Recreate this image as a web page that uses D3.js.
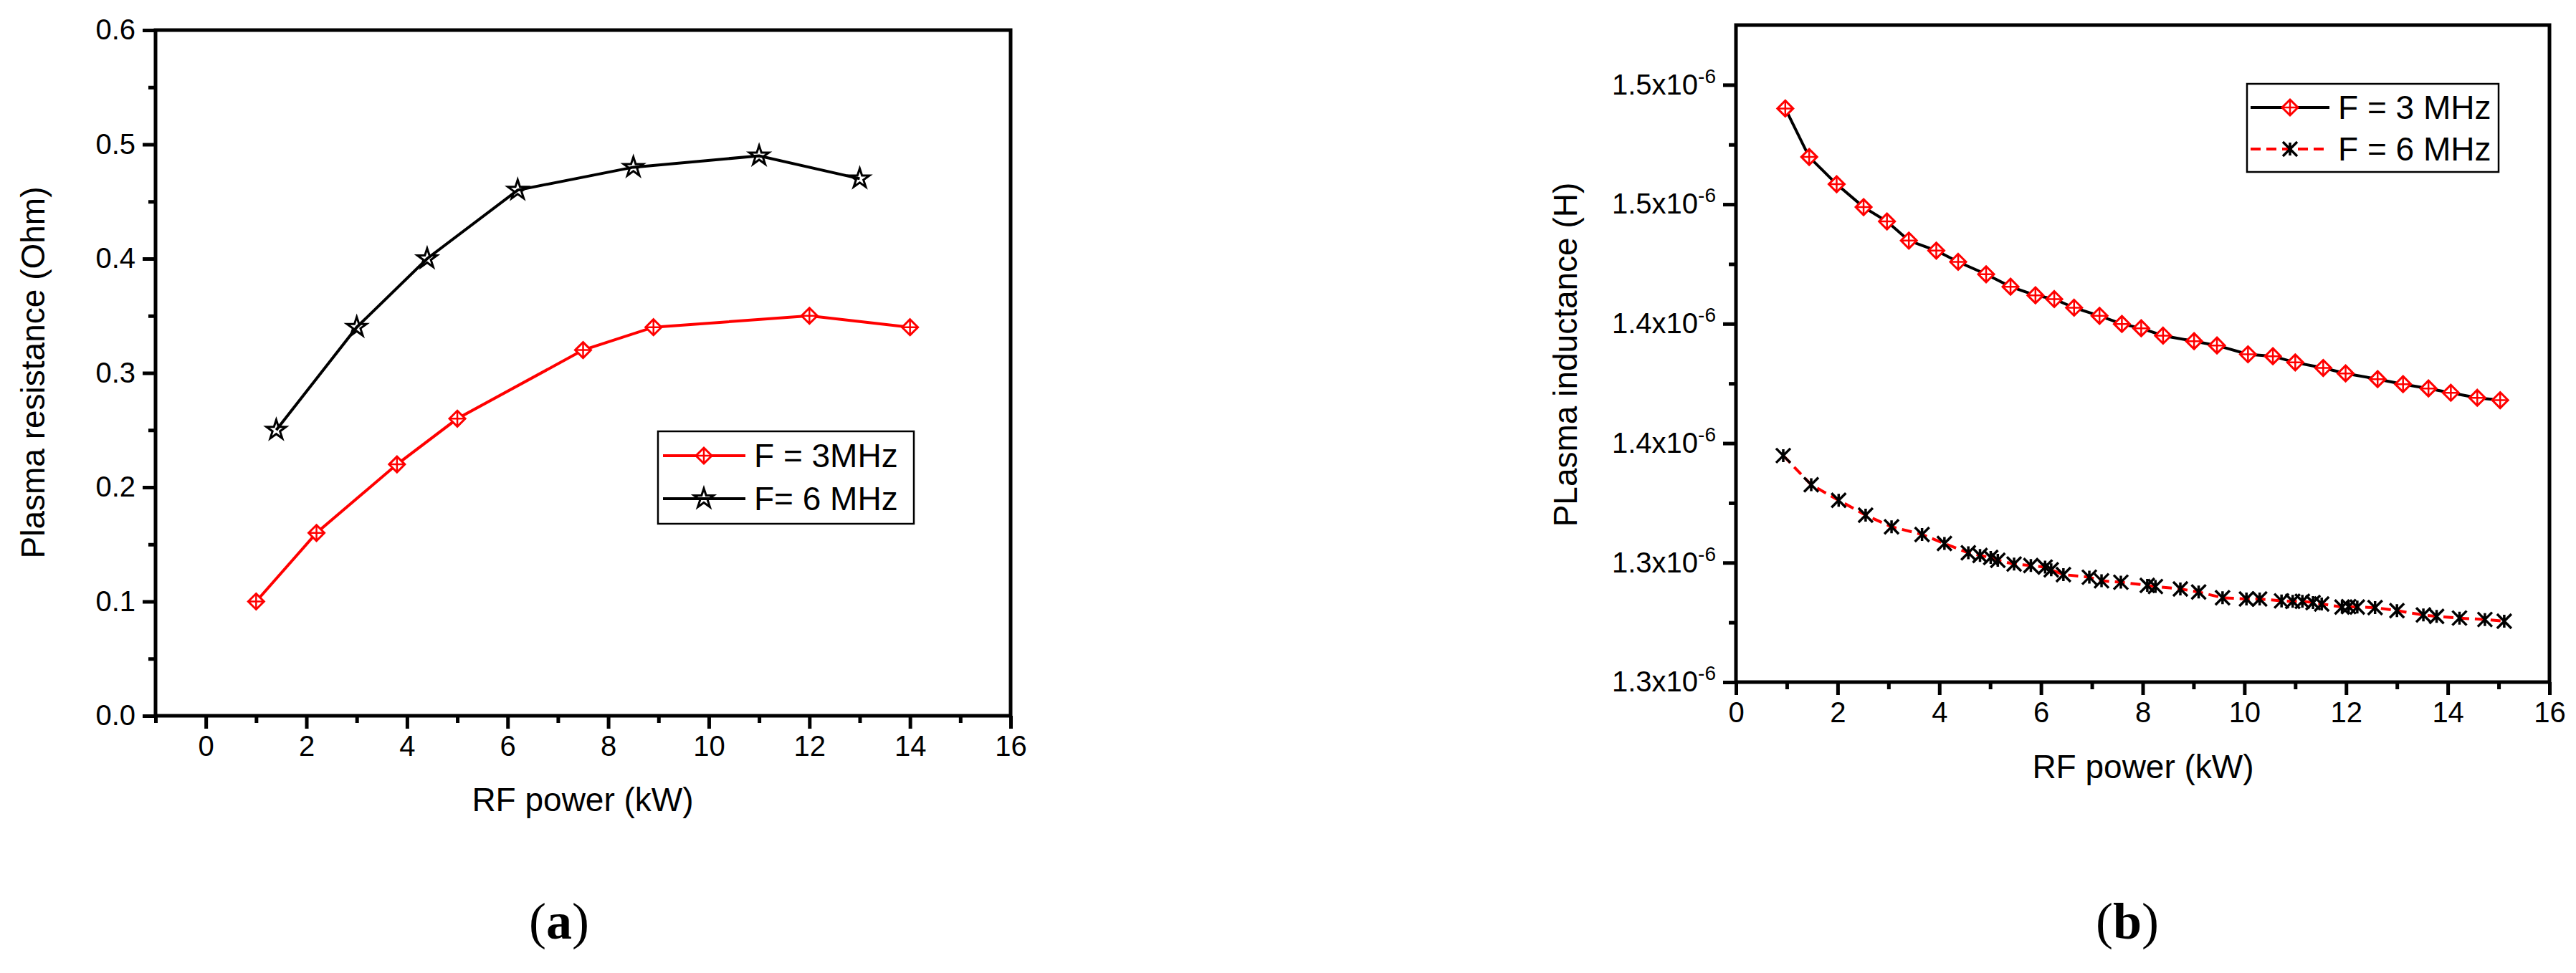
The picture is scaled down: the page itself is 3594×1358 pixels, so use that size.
<!DOCTYPE html>
<html><head><meta charset="utf-8">
<script src="https://cdn.jsdelivr.net/npm/d3@7"></script>
<style>body{margin:0;background:#fff}svg{display:block;font-family:"Liberation Sans",Arial,sans-serif}</style>
</head><body>
<svg id="c" width="3594" height="1358"></svg>
<script>
// Panel (a)
const a3x = [1, 2.2, 3.8, 5, 7.5, 8.9, 12, 14];
const a3y = [0.10, 0.16, 0.22, 0.26, 0.32, 0.34, 0.35, 0.34];
const a6x = [1.4, 3, 4.4, 6.2, 8.5, 11, 13];
const a6y = [0.25, 0.34, 0.40, 0.46, 0.48, 0.49, 0.47];
const aXTicks = [0, 2, 4, 6, 8, 10, 12, 14, 16];
const aYTicks = [0, 0.1, 0.2, 0.3, 0.4, 0.5, 0.6];
// Panel (b)
const b3x = [0.97,1.44,1.98,2.51,2.97,3.40,3.94,4.37,4.92,5.40,5.89,6.26,6.65,7.15,7.59,7.97,8.40,9.01,9.46,10.07,10.56,11.0,11.55,11.99,12.62,13.12,13.62,14.06,14.58,15.03];
const b3y = [1.5401,1.5198,1.5084,1.4988,1.4928,1.4848,1.4806,1.4759,1.4707,1.4655,1.4619,1.4603,1.4567,1.4533,1.4499,1.4481,1.4450,1.4427,1.4409,1.4372,1.4364,1.4338,1.4315,1.4292,1.4268,1.4247,1.4229,1.4211,1.4190,1.4180];
const b6x = [0.93,1.48,2.02,2.55,3.06,3.66,4.10,4.57,4.80,5.01,5.15,5.47,5.80,6.08,6.20,6.44,6.95,7.19,7.57,8.09,8.25,8.74,9.10,9.57,10.04,10.30,10.73,10.95,11.14,11.35,11.52,11.92,12.05,12.22,12.57,13.0,13.52,13.78,14.23,14.73,15.11];
const b6y = [1.3948,1.3826,1.3761,1.3699,1.3650,1.3618,1.3580,1.3541,1.3530,1.3522,1.3510,1.3494,1.3488,1.3481,1.3470,1.3450,1.3439,1.3424,1.3418,1.3405,1.3400,1.3390,1.3377,1.3353,1.3348,1.3348,1.3340,1.3338,1.3338,1.3333,1.3327,1.3314,1.3316,1.3314,1.3312,1.3299,1.3281,1.3275,1.3268,1.3262,1.3255];
const bXTicks = [0, 2, 4, 6, 8, 10, 12, 14, 16];
const bYTicks = [1.30, 1.35, 1.40, 1.45, 1.50, 1.55];
const bYLabels = ["1.3", "1.3", "1.4", "1.4", "1.5", "1.5"];

const svg = d3.select("#c");
const RED = "#ff0000";

function frame(g, x, y, xt, yt, yfmt, minorX, minorY) {
  const [x0, x1] = x.range(), [y1, y0] = y.range();
  g.append("rect").attr("x", x0).attr("y", y0).attr("width", x1 - x0).attr("height", y1 - y0)
    .attr("fill", "none").attr("stroke", "#000").attr("stroke-width", 5);
  const xa = g.append("g").attr("transform", `translate(0,${y1})`)
    .call(d3.axisBottom(x).tickValues(xt).tickSize(18).tickPadding(10).tickFormat(d3.format("d")));
  g.append("g").attr("transform", `translate(0,${y1})`)
    .call(d3.axisBottom(x).tickValues(minorX).tickSize(10).tickFormat(""));
  const ya = g.append("g").attr("transform", `translate(${x0},0)`)
    .call(d3.axisLeft(y).tickValues(yt).tickSize(18).tickPadding(10).tickFormat(yfmt));
  g.append("g").attr("transform", `translate(${x0},0)`)
    .call(d3.axisLeft(y).tickValues(minorY).tickSize(10).tickFormat(""));
  g.selectAll(".domain").remove();
  g.selectAll(".tick line").attr("stroke", "#000").attr("stroke-width", 5);
  g.selectAll(".tick text").attr("font-size", 40).attr("fill", "#000").attr("font-family", "Liberation Sans, Arial, sans-serif");
  return {xa, ya};
}

function diamond(g, cx, cy, s, stroke) {
  const p = g.append("g").attr("transform", `translate(${cx},${cy})`);
  p.append("path").attr("d", `M0,${-s}L${s},0L0,${s}L${-s},0Z`).attr("fill", "#fff").attr("stroke", stroke).attr("stroke-width", 3);
  p.append("path").attr("d", `M0,${-s}V${s}M${-s},0H${s}`).attr("stroke", stroke).attr("stroke-width", 2.5);
}
function star(g, cx, cy, s) {
  g.append("path").attr("transform", `translate(${cx},${cy})`)
    .attr("d", d3.symbol(d3.symbolStar, s * s * 1.6)()).attr("fill", "none").attr("stroke", "#000").attr("stroke-width", 3);
}
function aster(g, cx, cy, s) {
  const p = g.append("g").attr("transform", `translate(${cx},${cy})`).attr("stroke", "#000").attr("stroke-width", 3.5);
  p.append("path").attr("d", `M${-s},${-s}L${s},${s}M${-s},${s}L${s},${-s}M0,${-s * 0.9}V${s * 0.9}`);
}

// ---------- Panel (a)
{
  const g = svg.append("g");
  const x = d3.scaleLinear().domain([-1, 16]).range([217, 1410]);
  const y = d3.scaleLinear().domain([0, 0.6]).range([999, 42]);
  frame(g, x, y, aXTicks, aYTicks, d3.format(".1f"), d3.range(-1, 16, 2), d3.range(0.05, 0.6, 0.1));
  const line = d3.line().x(d => x(d[0])).y(d => y(d[1]));
  const s3 = a3x.map((v, i) => [v, a3y[i]]), s6 = a6x.map((v, i) => [v, a6y[i]]);
  g.append("path").attr("d", line(s6)).attr("fill", "none").attr("stroke", "#000").attr("stroke-width", 4);
  g.append("path").attr("d", line(s3)).attr("fill", "none").attr("stroke", RED).attr("stroke-width", 4);
  s6.forEach(d => star(g, x(d[0]), y(d[1]), 12));
  s3.forEach(d => diamond(g, x(d[0]), y(d[1]), 11, RED));
  g.append("text").attr("x", 813).attr("y", 1132).attr("text-anchor", "middle").attr("font-size", 46).text("RF power (kW)");
  g.append("text").attr("transform", "translate(62,520) rotate(-90)").attr("text-anchor", "middle").attr("font-size", 46).text("Plasma resistance (Ohm)");
  // legend
  g.append("rect").attr("x", 918).attr("y", 602).attr("width", 357).attr("height", 129).attr("fill", "#fff").attr("stroke", "#000").attr("stroke-width", 2.5);
  g.append("line").attr("x1", 925).attr("x2", 1040).attr("y1", 636).attr("y2", 636).attr("stroke", RED).attr("stroke-width", 4);
  diamond(g, 982, 636, 11, RED);
  g.append("line").attr("x1", 925).attr("x2", 1040).attr("y1", 696).attr("y2", 696).attr("stroke", "#000").attr("stroke-width", 4);
  star(g, 982, 696, 12);
  g.append("text").attr("x", 1052).attr("y", 652).attr("font-size", 46).text("F = 3MHz");
  g.append("text").attr("x", 1052).attr("y", 712).attr("font-size", 46).text("F= 6 MHz");
  g.append("text").attr("x", 780).attr("y", 1310).attr("text-anchor", "middle").attr("font-size", 72)
    .attr("font-family", "Liberation Serif, Times New Roman, serif").html('(<tspan font-weight="bold">a</tspan>)');
}

// ---------- Panel (b)
{
  const g = svg.append("g");
  const x = d3.scaleLinear().domain([0, 16]).range([2422, 3557]);
  const y = d3.scaleLinear().domain([1.3, 1.575]).range([952, 35]);
  const ax = frame(g, x, y, bXTicks, bYTicks, (d, i) => bYLabels[i], d3.range(1, 16, 2), d3.range(1.325, 1.575, 0.05));
  ax.ya.selectAll(".tick text").each(function (d, i) {
    const t = d3.select(this); t.text(null);
    t.append("tspan").text(bYLabels[i] + "x10");
    t.append("tspan").attr("dy", -16).attr("font-size", 28).text("-6");
  });
  const line = d3.line().x(d => x(d[0])).y(d => y(d[1]));
  const s3 = b3x.map((v, i) => [v, b3y[i]]), s6 = b6x.map((v, i) => [v, b6y[i]]);
  g.append("path").attr("d", line(s3)).attr("fill", "none").attr("stroke", "#000").attr("stroke-width", 4);
  g.append("path").attr("d", line(s6)).attr("fill", "none").attr("stroke", RED).attr("stroke-width", 4).attr("stroke-dasharray", "14,8");
  s3.forEach(d => diamond(g, x(d[0]), y(d[1]), 11, RED));
  s6.forEach(d => aster(g, x(d[0]), y(d[1]), 10));
  g.append("text").attr("x", 2990).attr("y", 1086).attr("text-anchor", "middle").attr("font-size", 46).text("RF power (kW)");
  g.append("text").attr("transform", "translate(2200,495) rotate(-90)").attr("text-anchor", "middle").attr("font-size", 46).text("PLasma inductance (H)");
  g.append("rect").attr("x", 3135).attr("y", 117).attr("width", 351).attr("height", 123).attr("fill", "#fff").attr("stroke", "#000").attr("stroke-width", 2.5);
  g.append("line").attr("x1", 3140).attr("x2", 3250).attr("y1", 150).attr("y2", 150).attr("stroke", "#000").attr("stroke-width", 4);
  diamond(g, 3195, 150, 11, RED);
  g.append("line").attr("x1", 3140).attr("x2", 3250).attr("y1", 208).attr("y2", 208).attr("stroke", RED).attr("stroke-width", 4).attr("stroke-dasharray", "14,8");
  aster(g, 3195, 208, 10);
  g.append("text").attr("x", 3262).attr("y", 166).attr("font-size", 46).text("F = 3 MHz");
  g.append("text").attr("x", 3262).attr("y", 224).attr("font-size", 46).text("F = 6 MHz");
  g.append("text").attr("x", 2968).attr("y", 1310).attr("text-anchor", "middle").attr("font-size", 72)
    .attr("font-family", "Liberation Serif, Times New Roman, serif").html('(<tspan font-weight="bold">b</tspan>)');
}
</script>
</body></html>
